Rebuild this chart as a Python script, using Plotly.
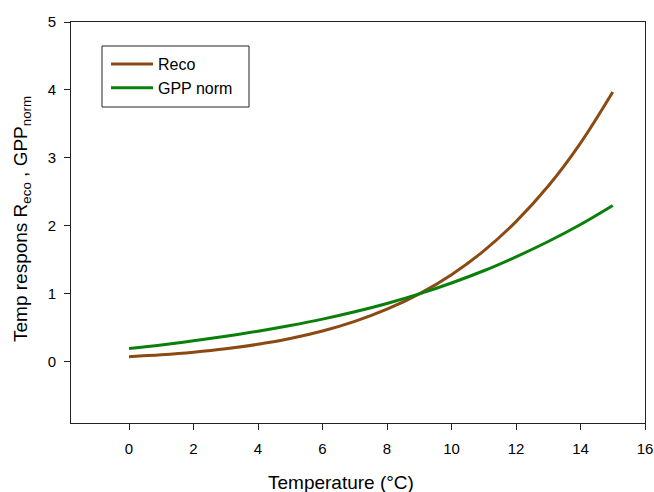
import plotly.graph_objects as go

temperature = [0, 1, 2, 3, 4, 5, 6, 7, 8, 9, 10, 11, 12, 13, 14, 15]
reco = [0.076, 0.104, 0.142, 0.192, 0.258, 0.343, 0.453, 0.595, 0.774, 1.0,
        1.283, 1.632, 2.063, 2.586, 3.219, 3.97]
gpp_norm = [0.196, 0.249, 0.309, 0.376, 0.450, 0.534, 0.628, 0.736, 0.859, 1.0,
            1.16, 1.34, 1.545, 1.77, 2.02, 2.30]
x_ticks = [0, 2, 4, 6, 8, 10, 12, 14, 16]
y_ticks = [0, 1, 2, 3, 4, 5]

FONT = "Liberation Sans, Arial, sans-serif"

W, H = 654, 492
L, R, T, B = 71, 9, 22, 69
pw, ph = W - L - R, H - T - B


def px_x(x):
    return (x - L) / pw


def px_y(y):
    return 1 - (y - T) / ph


fig = go.Figure()
fig.add_trace(go.Scatter(x=temperature, y=reco, mode="lines", name="Reco",
                         line=dict(color="#8B4A12", width=3, shape="spline")))
fig.add_trace(go.Scatter(x=temperature, y=gpp_norm, mode="lines", name="GPP norm",
                         line=dict(color="#0A800A", width=3, shape="spline")))

fig.update_layout(
    width=W, height=H,
    margin=dict(l=L, r=R, t=T, b=B),
    paper_bgcolor="white", plot_bgcolor="white",
    font=dict(family=FONT, size=15, color="black"),
    showlegend=True,
    legend=dict(x=px_x(106), y=px_y(47), xanchor="left", yanchor="top",
                borderwidth=0, bgcolor="rgba(0,0,0,0)",
                font=dict(size=16), itemwidth=42, tracegroupgap=0),
    xaxis=dict(range=[-1.8, 16], tickvals=x_ticks, ticks="outside", ticklen=6,
               tickcolor="#222", showline=True, linecolor="#222", linewidth=1,
               mirror=True, showgrid=False, zeroline=False, automargin=False,
               ticklabelstandoff=6, tickfont=dict(size=15)),
    yaxis=dict(range=[-0.9, 5], tickvals=y_ticks, ticks="outside", ticklen=6,
               tickcolor="#222", showline=True, linecolor="#222", linewidth=1,
               mirror=True, showgrid=False, zeroline=False, automargin=False,
               ticklabelstandoff=5, tickfont=dict(size=15)),
    shapes=[dict(type="rect", xref="paper", yref="paper",
                 x0=px_x(102), x1=px_x(249), y0=px_y(107), y1=px_y(46),
                 line=dict(color="#222", width=1), fillcolor="rgba(0,0,0,0)")],
    annotations=[
        dict(text="Temperature (°C)", x=px_x(341), y=px_y(482),
             xref="paper", yref="paper", showarrow=False,
             xanchor="center", yanchor="middle", font=dict(size=19)),
        dict(text="Temp respons R<sub>eco</sub> , GPP<sub>norm</sub>",
             x=px_x(22), y=px_y(219), xref="paper", yref="paper",
             showarrow=False, textangle=-90, xanchor="center",
             yanchor="middle", font=dict(size=19)),
    ],
)

fig.write_html("out.html")
